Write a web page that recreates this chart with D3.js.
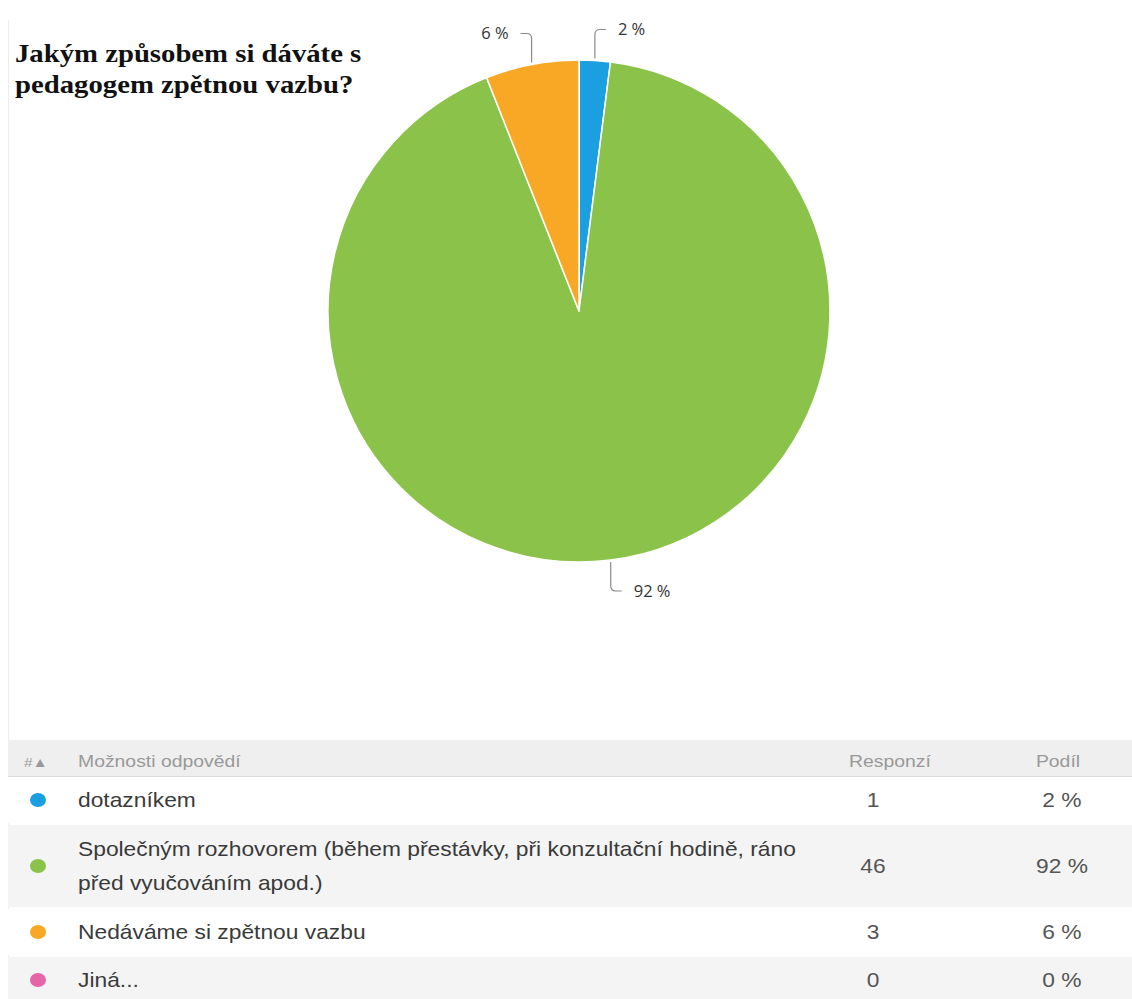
<!DOCTYPE html>
<html>
<head>
<meta charset="utf-8">
<script src="https://cdn.jsdelivr.net/npm/d3@7"></script>
<style>
  html, body { margin: 0; padding: 0; background: #fff; }
  svg { display: block; }
</style>
</head>
<body>
<svg id="chart" width="1132" height="999"></svg>
<script>
// Survey question and answer options
const titleLines = ["Jakým způsobem si dáváte s", "pedagogem zpětnou vazbu?"];
const categories = [
  "dotazníkem",
  "Společným rozhovorem (během přestávky, při konzultační hodině, ráno před vyučováním apod.)",
  "Nedáváme si zpětnou vazbu",
  "Jiná..."
];
// Wrapped lines of each option as shown in the table
const categoryLines = [
  ["dotazníkem"],
  ["Společným rozhovorem (během přestávky, při konzultační hodině, ráno", "před vyučováním apod.)"],
  ["Nedáváme si zpětnou vazbu"],
  ["Jiná..."]
];
const responses = [1, 46, 3, 0];
const shares = [2, 92, 6, 0];
const colors = ["#1c9fe0", "#8bc34a", "#f9a825", "#e466a7"];
const headers = ["#▲", "Možnosti odpovědí", "Responzí", "Podíl"];

const svg = d3.select("#chart");
const W = 1132;

// faint left border of the panel
svg.append("line")
  .attr("x1", 8.5).attr("x2", 8.5).attr("y1", 20).attr("y2", 999)
  .attr("stroke", "#eeeeee").attr("stroke-width", 1);

// Text in the panel is drawn slightly wide
const SX = 1.14;
function wideText(sel, x, y, txt) {
  return sel.append("text")
    .attr("transform", `translate(${x},${y}) scale(${SX},1)`)
    .text(txt);
}

// Title
const title = svg.append("g")
  .attr("font-family", "'Liberation Serif', 'Times New Roman', serif")
  .attr("font-weight", "bold")
  .attr("font-size", 25.2)
  .attr("fill", "#111");
titleLines.forEach((t, i) => wideText(title, 15, 62 + i * 31, t));

// Pie
const cx = 579, cy = 311, r = 251;
const pie = d3.pie().sort(null).value(d => d)(responses);
const arc = d3.arc().innerRadius(0).outerRadius(r);
const pg = svg.append("g").attr("transform", `translate(${cx},${cy})`);
pg.selectAll("path.slice")
  .data(pie.filter(d => d.value > 0))
  .join("path")
  .attr("class", "slice")
  .attr("d", arc)
  .attr("fill", d => colors[d.index])
  .attr("stroke", "#fff")
  .attr("stroke-width", 1.5)
  .attr("stroke-linejoin", "round");

// Leader lines and percentage labels
pie.filter(d => d.value > 0).forEach(d => {
  const a = (d.startAngle + d.endAngle) / 2;
  const s = Math.sin(a), c = Math.cos(a);
  const x0 = s * (r + 2), y0 = -c * (r + 2);
  const dy = c > 0 ? -1 : 1;       // upward for top slices
  const dx = s >= 0 ? 1 : -1;      // toward the side of the slice
  const ly = y0 + dy * 29;
  const path = d3.path();
  path.moveTo(x0, y0);
  path.lineTo(x0, ly - dy * 5);
  path.quadraticCurveTo(x0, ly, x0 + dx * 5, ly);
  path.lineTo(x0 + dx * 11, ly);
  pg.append("path")
    .attr("d", path.toString())
    .attr("fill", "none")
    .attr("stroke", "#8a8a8a")
    .attr("stroke-width", 1.2);
  pg.append("text")
    .attr("x", x0 + dx * 23)
    .attr("y", ly)
    .attr("dy", "0.35em")
    .attr("text-anchor", dx > 0 ? "start" : "end")
    .attr("font-family", "'Open Sans', 'DejaVu Sans', sans-serif")
    .attr("font-size", 16.5)
    .attr("fill", "#333")
    .text(shares[d.index] + " %");
});

// Table
const tableX = 8;
const headTop = 740, headH = 36;
const colRespX = 873, colShareX = 1062;
const tg = svg.append("g")
  .attr("font-family", "'Liberation Sans', Arial, sans-serif");

tg.append("rect")
  .attr("x", tableX).attr("y", headTop).attr("width", W - tableX).attr("height", headH)
  .attr("fill", "#efefef");
tg.append("line")
  .attr("x1", tableX).attr("x2", W).attr("y1", headTop + headH + 0.5).attr("y2", headTop + headH + 0.5)
  .attr("stroke", "#dcdcdc");

const head = tg.append("g").attr("font-size", 17).attr("fill", "#999");
wideText(head, 24, 767, headers[0]).attr("font-size", 13.5);
wideText(head, 78, 767, headers[1]);
wideText(head, 890, 767, headers[2]).attr("text-anchor", "middle");
wideText(head, 1058, 767, headers[3]).attr("text-anchor", "middle");

let y = headTop + headH + 1;
categories.forEach((cat, i) => {
  const lines = categoryLines[i];
  const h = 46 + (lines.length - 1) * 36;
  const bg = i % 2 === 1 ? "#f4f4f4" : "#ffffff";
  tg.append("rect")
    .attr("x", tableX).attr("y", y).attr("width", W - tableX).attr("height", h)
    .attr("fill", bg);
  const mid = y + h / 2;
  tg.append("ellipse")
    .attr("cx", 38).attr("cy", mid).attr("rx", 8).attr("ry", 7)
    .attr("fill", colors[i]);
  const row = tg.append("g").attr("font-size", 20).attr("fill", "#3a3a3a");
  const lh = 34;
  const first = mid - (lines.length - 1) * lh / 2;
  lines.forEach((ln, j) => {
    wideText(row, 78, first + j * lh, ln).attr("dy", "0.35em");
  });
  const nums = tg.append("g").attr("font-size", 20).attr("fill", "#555");
  wideText(nums, colRespX, mid, responses[i]).attr("dy", "0.35em").attr("text-anchor", "middle");
  wideText(nums, colShareX, mid, shares[i] + " %").attr("dy", "0.35em").attr("text-anchor", "middle");
  y += h + 2;
});
</script>
</body>
</html>
